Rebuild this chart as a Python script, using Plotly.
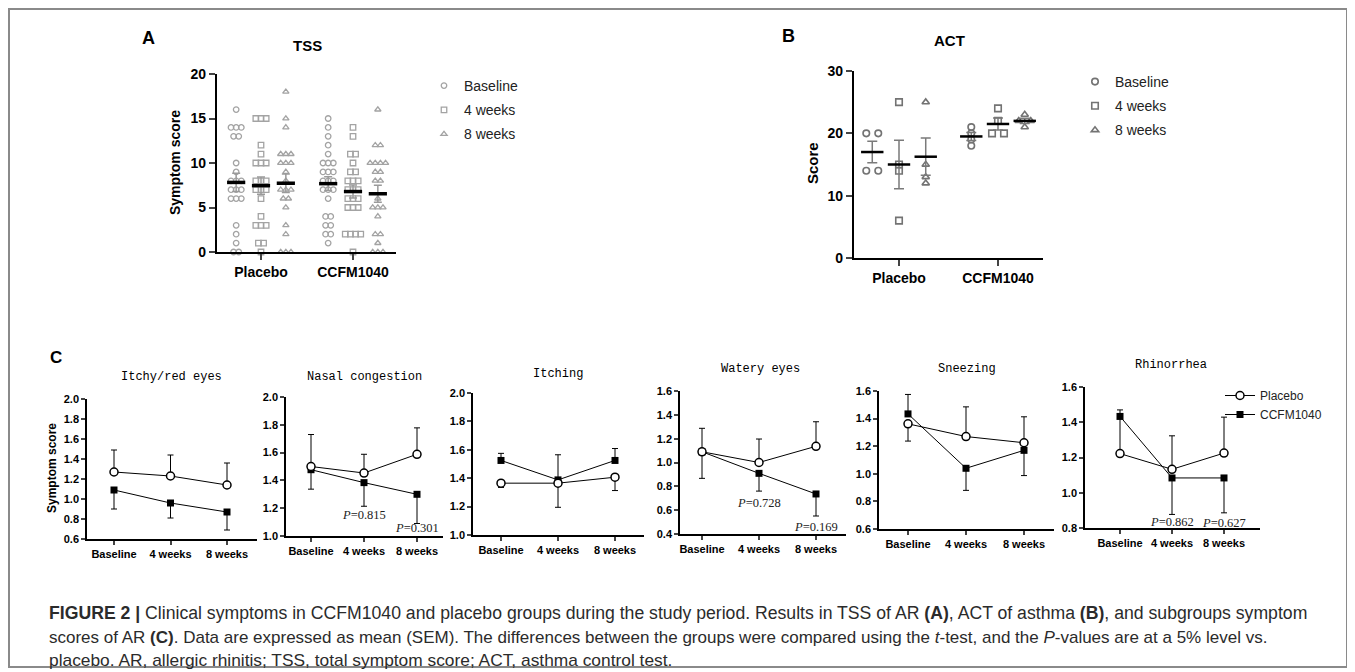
import numpy as np
import plotly.graph_objects as go

# ---------------- DATA ----------------
groups = ["Placebo", "CCFM1040"]
timepoints = ["Baseline", "4 weeks", "8 weeks"]

# Panel A: TSS individual scores
tss_placebo_baseline = [16, 14, 14, 14, 13, 13, 10, 9, 8, 8, 8, 7, 7, 7, 6, 6, 6, 3, 2, 1, 0, 0]
tss_placebo_4w = [15, 15, 15, 12, 11, 10, 10, 10, 8, 8, 8, 7, 7, 7, 6, 4, 3, 3, 3, 1, 1, 0]
tss_placebo_8w = [18, 15, 14, 11, 11, 11, 10, 10, 10, 9, 8, 7, 7, 7, 6, 6, 5, 3, 2, 0, 0, 0]
tss_ccfm_baseline = [15, 14, 13, 12, 11, 10, 10, 10, 9, 9, 9, 8, 8, 8, 7, 7, 7, 6, 4, 4, 3, 3, 2, 2, 1]
tss_ccfm_4w = [14, 13, 11, 11, 10, 9, 9, 8, 8, 8, 7, 7, 7, 6, 6, 6, 5, 5, 5, 2, 2, 2, 2, 0]
tss_ccfm_8w = [16, 12, 12, 10, 10, 10, 10, 9, 9, 8, 8, 6, 5, 5, 5, 4, 2, 2, 1, 0, 0, 0]

# Panel B: ACT individual scores
act_placebo_baseline = [20, 20, 14, 14]
act_placebo_4w = [25, 15, 14, 6]
act_placebo_8w = [25, 15, 13, 12]
act_ccfm_baseline = [21, 20, 19, 18]
act_ccfm_4w = [24, 22, 20, 20]
act_ccfm_8w = [23, 22, 22, 21]

# Panel C: subgroup symptom scores, mean and SEM (shown direction only)
c_titles = ["Itchy/red eyes", "Nasal congestion", "Itching", "Watery eyes", "Sneezing", "Rhinorrhea"]
c_placebo = [[1.27, 1.23, 1.14], [1.50, 1.453, 1.588], [1.365, 1.365, 1.407],
             [1.09, 1.00, 1.136], [1.362, 1.27, 1.225], [1.222, 1.133, 1.225]]
c_placebo_err_plus = [[0.22, 0.21, 0.22], [0.23, 0.135, 0.19], [0, 0, 0],
                      [0.197, 0.197, 0.206], [0, 0.215, 0.188], [0.248, 0.19, 0.204]]
c_placebo_err_minus = [[0, 0, 0], [0, 0, 0], [0.03, 0.17, 0.094],
                       [0, 0, 0], [0.125, 0, 0], [0, 0, 0]]
c_ccfm = [[1.09, 0.96, 0.87], [1.477, 1.384, 1.30], [1.525, 1.388, 1.525],
          [1.09, 0.909, 0.736], [1.434, 1.04, 1.17], [1.433, 1.084, 1.084]]
c_ccfm_err_plus = [[0, 0, 0], [0, 0, 0], [0.05, 0.177, 0.084],
                   [0, 0, 0], [0.141, 0, 0], [0, 0, 0]]
c_ccfm_err_minus = [[0.19, 0.15, 0.18], [0.14, 0.17, 0.21], [0, 0, 0],
                    [0.223, 0.149, 0.185], [0, 0.16, 0.183], [0, 0.207, 0.198]]
c_pvalues = [[None, None, None], [None, "0.815", "0.301"], [None, None, None],
             [None, "0.728", "0.169"], [None, None, None], [None, "0.862", "0.627"]]
c_yticks = [(0.6, 2.0), (1.0, 2.0), (1.0, 2.0), (0.4, 1.6), (0.6, 1.6), (0.8, 1.6)]

caption_lines = [
    "<b>FIGURE 2 |</b> Clinical symptoms in CCFM1040 and placebo groups during the study period. "
    "Results in TSS of AR <b>(A)</b>, ACT of asthma <b>(B)</b>, and subgroups symptom",
    "scores of AR <b>(C)</b>. Data are expressed as mean (SEM). The differences between the groups "
    "were compared using the <i>t</i>-test, and the <i>P</i>-values are at a 5% level vs.",
    "placebo. AR, allergic rhinitis; TSS, total symptom score; ACT, asthma control test.",
]

# ---------------- LAYOUT HELPERS ----------------
W, H = 1355, 672
OFF = 8  # page body margin: the figure is drawn 8 px right and down in the screenshot
SANS = "Liberation Sans, Arial, sans-serif"


def fx(px):
    return (px - OFF) / W


def fy(py):
    return 1 - (py - OFF) / H


def spread(values, center, step):
    vals = np.array(values, float)
    xs = np.empty_like(vals)
    for v in np.unique(vals):
        idx = np.where(vals == v)[0]
        n = len(idx)
        xs[idx] = center + (np.arange(n) - (n - 1) / 2) * step
    return xs


def sem(v):
    v = np.array(v, float)
    return v.std(ddof=1) / np.sqrt(len(v))


fig = go.Figure()
symbols = ["circle-open", "square-open", "triangle-up-open"]
legend_groups = ["g0", "g1", "g2"]

# ---------------- PANEL A ----------------
tss = [[tss_placebo_baseline, tss_placebo_4w, tss_placebo_8w],
       [tss_ccfm_baseline, tss_ccfm_4w, tss_ccfm_8w]]
offA = 0.27
for k, tp in enumerate(timepoints):
    xs, ys = [], []
    for g in range(2):
        xs.extend(spread(tss[g][k], g + 1 + (k - 1) * offA, 0.056))
        ys.extend(tss[g][k])
    fig.add_trace(go.Scatter(
        x=xs, y=ys, mode="markers", name=tp, legend="legend", legendgroup=legend_groups[k],
        marker=dict(symbol=symbols[k], size=5.5, color="#a3a3a3", line=dict(width=1.3, color="#a3a3a3")),
        xaxis="x", yaxis="y", cliponaxis=False))
for k in range(3):
    fig.add_trace(go.Scatter(
        x=[1 + (k - 1) * offA, 2 + (k - 1) * offA],
        y=[np.mean(tss[0][k]), np.mean(tss[1][k])],
        mode="markers", showlegend=False,
        marker=dict(symbol="line-ew", size=13, line=dict(width=3.5, color="black")),
        error_y=dict(type="data", array=[sem(tss[0][k]), sem(tss[1][k])],
                     color="#9a9a9a", thickness=1.5, width=4),
        xaxis="x", yaxis="y", cliponaxis=False))

# ---------------- PANEL B ----------------
act = [[act_placebo_baseline, act_placebo_4w, act_placebo_8w],
       [act_ccfm_baseline, act_ccfm_4w, act_ccfm_8w]]
offB = 0.27
for k, tp in enumerate(timepoints):
    xs, ys = [], []
    for g in range(2):
        xs.extend(spread(act[g][k], g + 1 + (k - 1) * offB, 0.121))
        ys.extend(act[g][k])
    fig.add_trace(go.Scatter(
        x=xs, y=ys, mode="markers", name=tp, legend="legend2", legendgroup="b" + legend_groups[k],
        marker=dict(symbol=symbols[k], size=6.5, color="#737373", line=dict(width=1.6, color="#737373")),
        xaxis="x2", yaxis="y2", cliponaxis=False))
for k in range(3):
    fig.add_trace(go.Scatter(
        x=[1 + (k - 1) * offB, 2 + (k - 1) * offB],
        y=[np.mean(act[0][k]), np.mean(act[1][k])],
        mode="markers", showlegend=False,
        marker=dict(symbol="line-ew", size=16, line=dict(width=2.5, color="black")),
        error_y=dict(type="data", array=[sem(act[0][k]), sem(act[1][k])],
                     color="#7a7a7a", thickness=1.5, width=5),
        xaxis="x2", yaxis="y2", cliponaxis=False))

# ---------------- PANEL C ----------------
c_geom = [  # left, right, top, bottom (px), x of Baseline tick, x of 8 weeks tick
    (87, 257, 399, 539, 114, 227),
    (286, 443, 397, 536, 311, 417),
    (473, 644, 393, 535, 501, 615),
    (680, 846, 391, 534, 702, 816),
    (879, 1054, 391, 529, 908, 1024),
    (1085, 1260, 387, 528, 1120, 1224),
]
title_pos = [(171, 377), (364, 377), (558, 374), (760, 369), (967, 369), (1171, 365)]
# vertical position (axis units) of the P-value labels
c_plabel_y = [None, [None, 1.15, 1.055], None, [None, 0.66, 0.46], None, [None, 0.835, 0.83]]

annotations = []
layout_axes = {}
for i in range(6):
    ax = i + 3
    xa, ya = f"x{ax}", f"y{ax}"
    left, right, top, bottom, xb, x8 = c_geom[i]
    step = (x8 - xb) / 2
    xr = [-(xb - left) / step, 2 + (right - x8) / step]
    lo, hi = c_yticks[i]
    fig.add_trace(go.Scatter(
        x=[0, 1, 2], y=c_ccfm[i], mode="lines+markers", name="CCFM1040",
        legend="legend3", showlegend=(i == 0), legendrank=2,
        line=dict(color="black", width=1),
        marker=dict(symbol="square", size=7, color="black"),
        error_y=dict(type="data", symmetric=False, array=c_ccfm_err_plus[i],
                     arrayminus=c_ccfm_err_minus[i], color="black", thickness=1, width=3),
        xaxis=xa, yaxis=ya, cliponaxis=False))
    fig.add_trace(go.Scatter(
        x=[0, 1, 2], y=c_placebo[i], mode="lines+markers", name="Placebo",
        legend="legend3", showlegend=(i == 0), legendrank=1,
        line=dict(color="black", width=1),
        marker=dict(symbol="circle", size=8, color="white", line=dict(width=1.5, color="black")),
        error_y=dict(type="data", symmetric=False, array=c_placebo_err_plus[i],
                     arrayminus=c_placebo_err_minus[i], color="black", thickness=1, width=3),
        xaxis=xa, yaxis=ya, cliponaxis=False))
    layout_axes[f"xaxis{ax}"] = dict(
        domain=[fx(left), fx(right)], range=xr, anchor=ya, showgrid=False, zeroline=False,
        automargin=False,
        showline=True, linecolor="black", linewidth=1.5, ticks="outside", ticklen=4, tickwidth=1.5,
        tickvals=[0, 1, 2], ticktext=timepoints,
        tickfont=dict(family=SANS, size=11, color="black", weight="bold"))
    layout_axes[f"yaxis{ax}"] = dict(
        domain=[fy(bottom), fy(top)], range=[lo, hi], anchor=xa, showgrid=False, zeroline=False,
        automargin=False,
        showline=True, linecolor="black", linewidth=1.5, ticks="outside", ticklen=4, tickwidth=1.5,
        tickvals=list(np.round(np.arange(lo, hi + 1e-9, 0.2), 1)), tickformat=".1f",
        tickfont=dict(family=SANS, size=11, color="black", weight="bold"))
    tx, ty = title_pos[i]
    annotations.append(dict(text=c_titles[i], x=fx(tx), y=fy(ty), xref="paper", yref="paper",
                            showarrow=False, xanchor="center", yanchor="middle",
                            font=dict(family="Liberation Mono, monospace", size=12, color="black")))
    for j in range(3):
        p = c_pvalues[i][j]
        if p:
            annotations.append(dict(
                text=f"<i>P</i>=" + p, x=j, y=c_plabel_y[i][j],
                xref=xa, yref=ya, showarrow=False, xanchor="center", yanchor="middle",
                font=dict(family="Liberation Serif, Times New Roman, serif", size=12.5, color="#222")))

# ---------------- TEXT ----------------
def txt(s, x, y, size, bold=True, angle=0, family=SANS, color="black", xanchor="center"):
    annotations.append(dict(text=(f"<b>{s}</b>" if bold else s), x=fx(x), y=fy(y), xref="paper",
                            yref="paper", showarrow=False, xanchor=xanchor, yanchor="middle",
                            textangle=angle, font=dict(family=family, size=size, color=color)))

txt("A", 148, 38, 18)
txt("B", 788, 36, 18)
txt("C", 48, 357, 17, xanchor="left")
txt("TSS", 307, 45, 15)
txt("ACT", 949, 40, 15)
txt("Symptom score", 175, 163, 14, angle=-90)
txt("Score", 813, 163, 15, angle=-90)
txt("Symptom score", 52, 468, 12, angle=-90)
caption_sizes = [17.65, 17.0, 17.35]
for i, line in enumerate(caption_lines):
    txt(line, 47, [613, 637, 660][i], caption_sizes[i], bold=False, color="#2b2b2b", xanchor="left")

common_ax = dict(showgrid=False, zeroline=False, showline=True, linecolor="black", linewidth=2.2,
                 automargin=False,
                 ticks="outside", ticklen=6, tickwidth=2.2,
                 tickfont=dict(family=SANS, size=14, color="black", weight="bold"))

fig.update_layout(
    template="none",
    width=W, height=H, margin=dict(l=0, r=0, t=0, b=0, pad=0, autoexpand=False),
    font=dict(family=SANS, color="black"),
    paper_bgcolor="white", plot_bgcolor="rgba(0,0,0,0)",
    xaxis=dict(domain=[fx(217), fx(396)], range=[1 - 44 / 92, 2 + 43 / 92], anchor="y",
               tickvals=[1, 2], ticktext=groups, **common_ax),
    yaxis=dict(domain=[fy(252), fy(74)], range=[0, 20], anchor="x", tickvals=[0, 5, 10, 15, 20],
               **common_ax),
    xaxis2=dict(domain=[fx(854), fx(1043)], range=[1 - 45 / 99, 2 + 45 / 99], anchor="y2",
                tickvals=[1, 2], ticktext=groups, **common_ax),
    yaxis2=dict(domain=[fy(258), fy(71)], range=[0, 30], anchor="x2", tickvals=[0, 10, 20, 30],
                **common_ax),
    legend=dict(x=fx(424), y=fy(70), xanchor="left", yanchor="top", tracegroupgap=3,
                font=dict(family=SANS, size=14, color="#222"), bgcolor="rgba(0,0,0,0)"),
    legend2=dict(x=fx(1075), y=fy(66), xanchor="left", yanchor="top", tracegroupgap=3,
                 font=dict(family=SANS, size=14, color="#222"), bgcolor="rgba(0,0,0,0)"),
    legend3=dict(x=fx(1220), y=fy(381), xanchor="left", yanchor="top",
                 font=dict(family=SANS, size=12, color="#222"), bgcolor="rgba(0,0,0,0)"),
    annotations=annotations,
    shapes=[dict(type="rect", xref="paper", yref="paper", x0=fx(9), x1=fx(1347), y0=fy(667), y1=fy(9),
                 line=dict(color="#8a8a8a", width=2))],
    **layout_axes,
)

fig.write_html("out.html")
